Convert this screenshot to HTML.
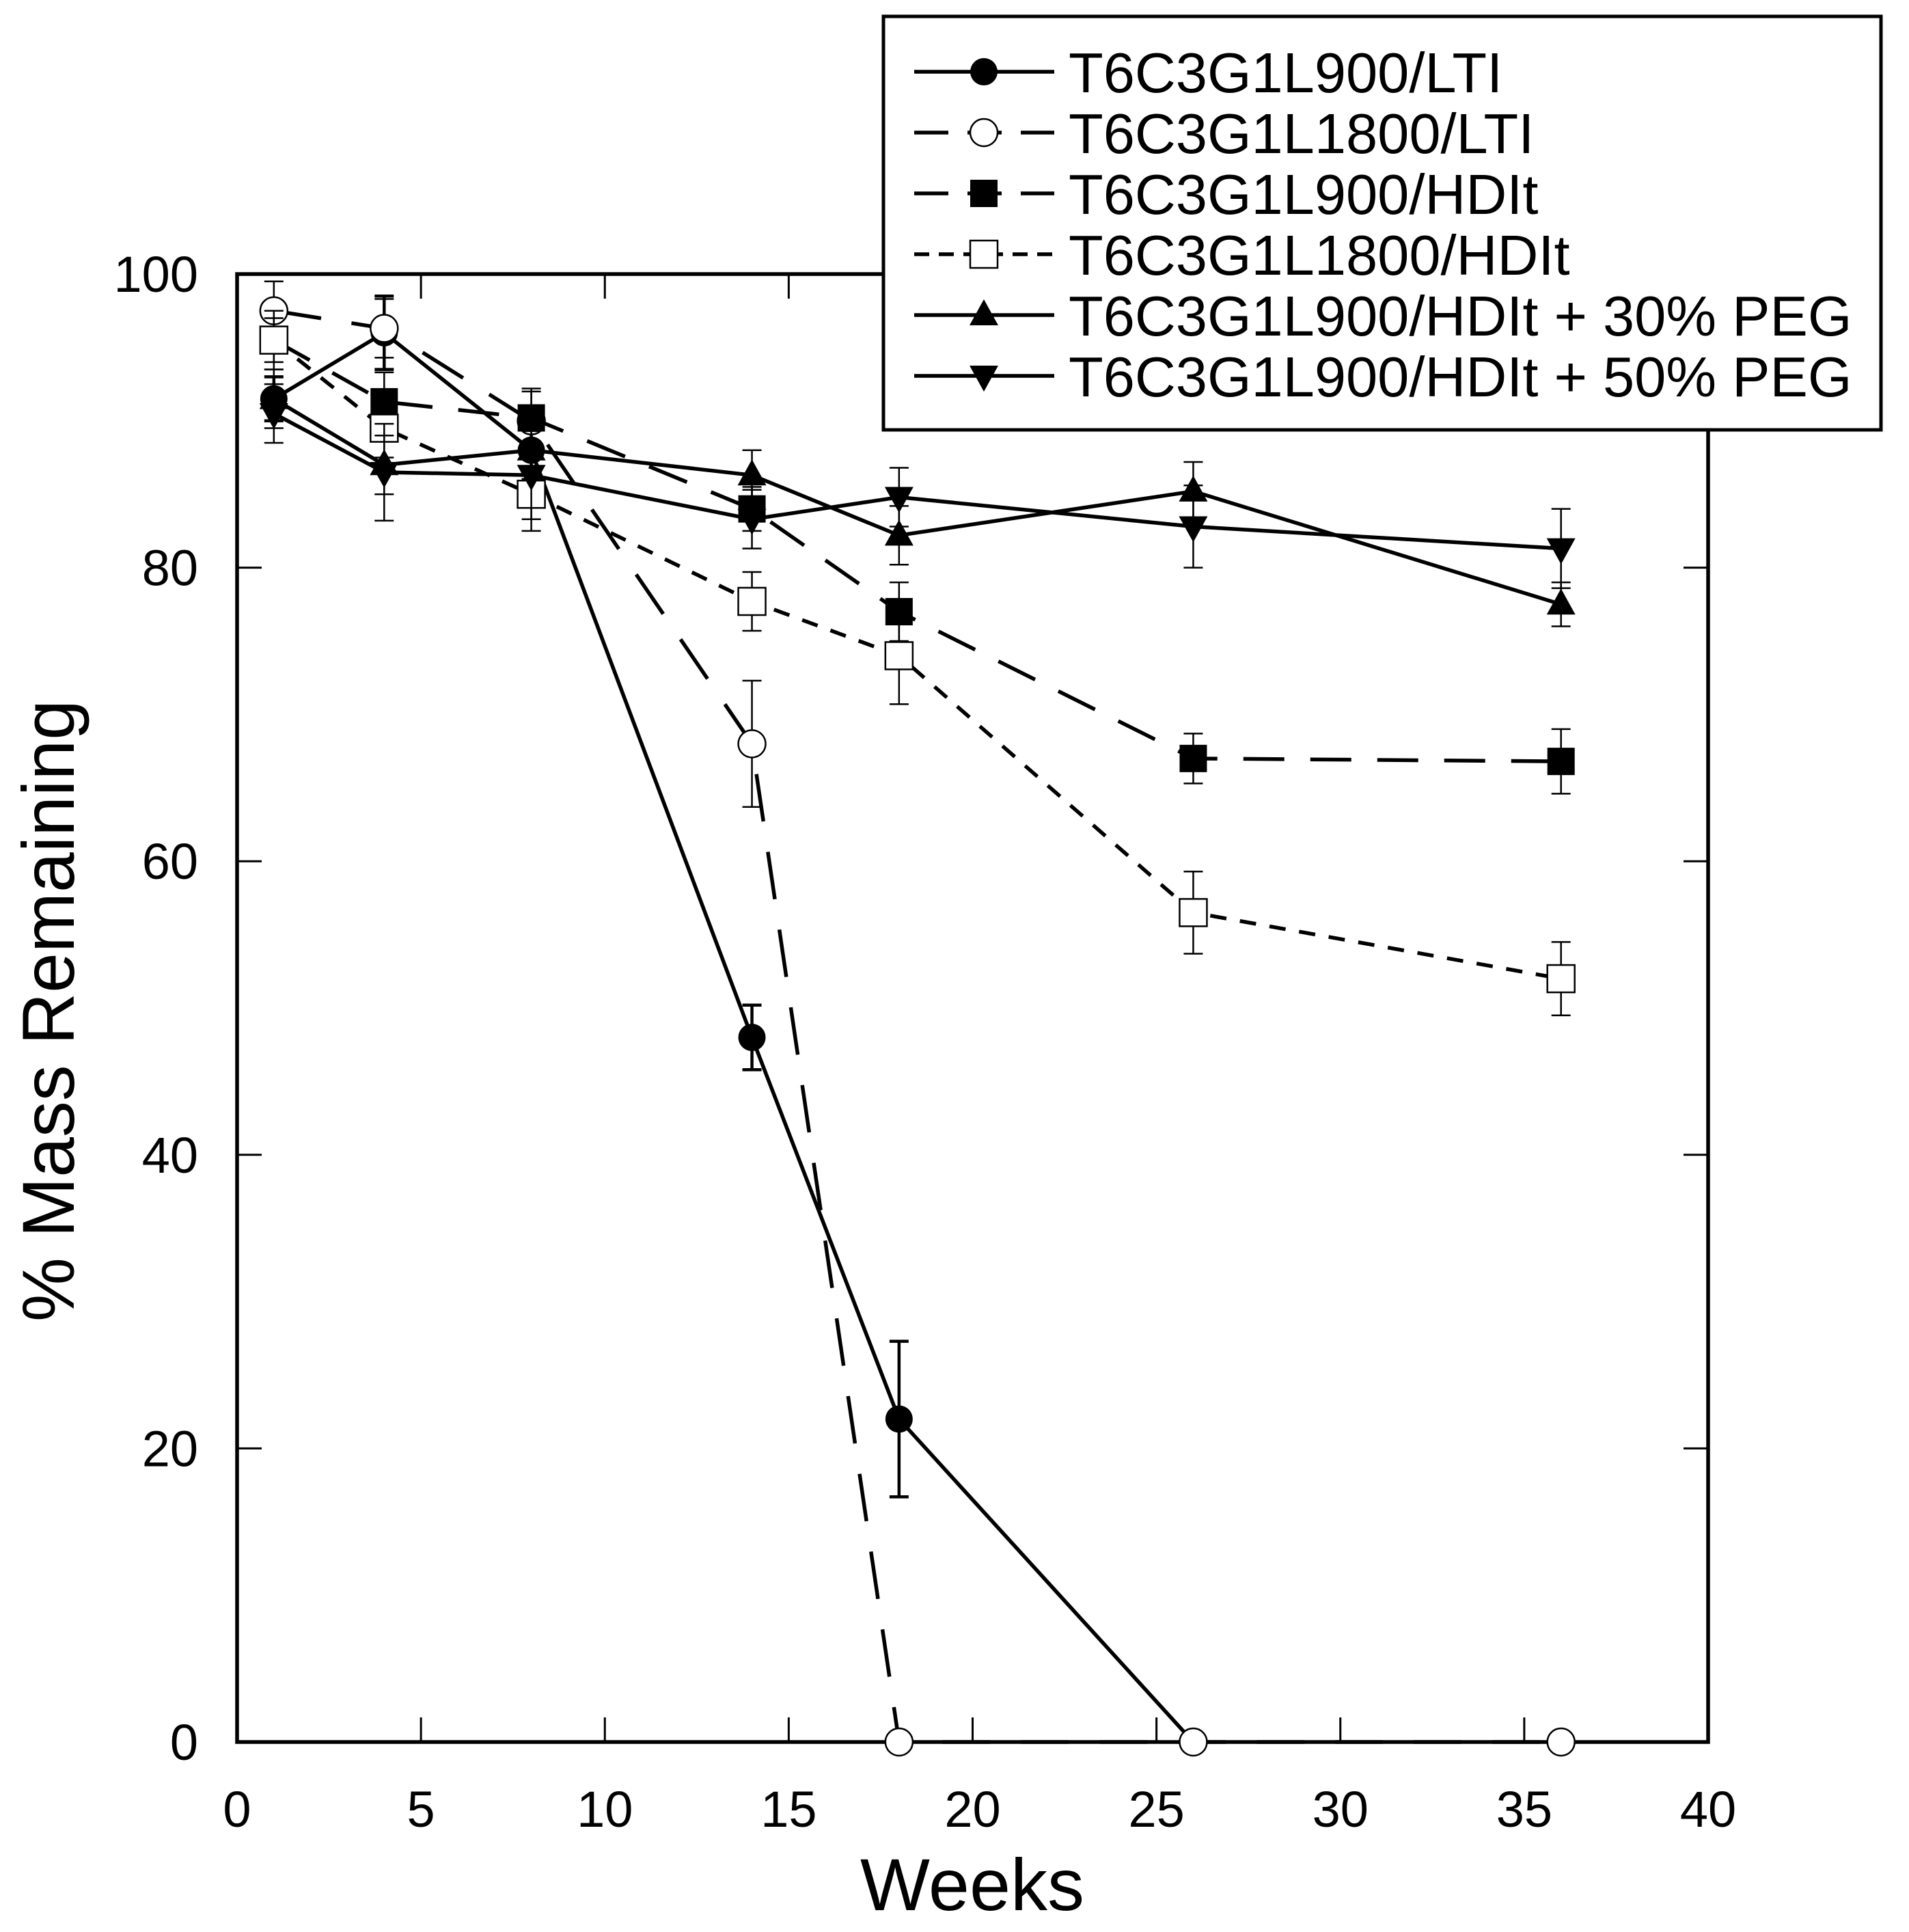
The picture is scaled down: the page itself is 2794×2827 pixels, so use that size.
<!DOCTYPE html>
<html><head><meta charset="utf-8"><style>html,body{margin:0;padding:0;background:#fff}svg{display:block}</style></head>
<body>
<svg id="chart" width="2794" height="2827" viewBox="0 0 2794 2827" xmlns="http://www.w3.org/2000/svg" font-family="'Liberation Sans', sans-serif">
<rect x="0" y="0" width="2794" height="2827" fill="#fff"/>
<g id="axes"></g>
<g id="series"></g>
<g id="legend"></g>
</svg>
<script>
const weeks = [1, 4, 8, 14, 18, 26, 36];
const lti900 = [91.5, 96, 88, 48, 22, 0];
const lti900Err = [1.5, 2.5, 2, 2.2, 5.3, 0];
const lti1800 = [97.5, 96.3, 90, 68, 0, 0, 0];
const lti1800Err = [2, 2, 2, 4.3, 0, 0, 0];
const hdi900 = [95.5, 91.3, 90.2, 84, 77, 67, 66.8];
const hdi900Err = [2, 2, 2, 1.5, 2, 1.7, 2.2];
const hdi1800 = [95.5, 89.5, 85, 77.7, 74, 56.5, 52];
const hdi1800Err = [1.5, 2, 2.5, 2, 3.3, 2.8, 2.5];
const peg30 = [91.5, 87, 88, 86.3, 82.2, 85.2, 77.5];
const peg30Err = [2, 2, 2, 1.7, 2, 2, 1.5];
const peg50 = [90.5, 86.5, 86.3, 83.3, 84.8, 82.8, 81.3];
const peg50Err = [2, 3.3, 3, 2, 2, 2.8, 2.7];
const xTicks = [0, 5, 10, 15, 20, 25, 30, 35, 40];
const yTicks = [0, 20, 40, 60, 80, 100];
const legendLabels = ["T6C3G1L900/LTI","T6C3G1L1800/LTI","T6C3G1L900/HDIt","T6C3G1L1800/HDIt","T6C3G1L900/HDIt + 30% PEG","T6C3G1L900/HDIt + 50% PEG"];

const X0=347, X1=2500, Y0=2549, Y1=401;
const sx = v => X0 + (v/40)*(X1-X0);
const sy = v => Y0 - (v/100)*(Y0-Y1);
const NS="http://www.w3.org/2000/svg";
function mk(tag, attrs, parent){const e=document.createElementNS(NS,tag);for(const k in attrs)e.setAttribute(k,attrs[k]);parent.appendChild(e);return e;}
const axes=document.getElementById('axes'), ser=document.getElementById('series'), leg=document.getElementById('legend');

let frame=mk('rect',{x:X0,y:Y1,width:X1-X0,height:Y0-Y1,fill:'none',stroke:'#000','stroke-width':5.5},axes);


xTicks.forEach(t=>{
  const x=sx(t);
  let l=mk('line',{x1:x,x2:x,y1:Y0,y2:Y0-36,stroke:'#000','stroke-width':3},axes);
  
  
  let l2=mk('line',{x1:x,x2:x,y1:Y1,y2:Y1+36,stroke:'#000','stroke-width':3},axes);
  
  
  let tx=mk('text',{x:x,y:2673,'font-size':74,'text-anchor':'middle'},axes);tx.textContent=t;
  
  
});
yTicks.forEach(t=>{
  const y=sy(t);
  let l=mk('line',{x1:X0,x2:X0+36,y1:y,y2:y,stroke:'#000','stroke-width':3},axes);
  
  
  let l2=mk('line',{x1:X1,x2:X1-36,y1:y,y2:y,stroke:'#000','stroke-width':3},axes);
  
  
  let tx=mk('text',{x:290,y:y+26,'font-size':74,'text-anchor':'end'},axes);tx.textContent=t;
  
  
});
let xt=mk('text',{x:1423,y:2795,'font-size':108,'text-anchor':'middle'},axes);xt.textContent='Weeks';


let yt=mk('text',{x:0,y:0,'font-size':108,'text-anchor':'middle',transform:'translate(108,1479) rotate(-90)',textLength:910,lengthAdjust:'spacingAndGlyphs'},axes);yt.textContent='% Mass Remaining';



function marker(type,cx,cy,parent){
  const r=20;let e;
  if(type==='fc')e=mk('circle',{cx,cy,r,fill:'#000'},parent);
  else if(type==='oc')e=mk('circle',{cx,cy,r,fill:'#fff',stroke:'#000','stroke-width':2.5},parent);
  else if(type==='fs')e=mk('rect',{x:cx-r,y:cy-r,width:2*r,height:2*r,fill:'#000'},parent);
  else if(type==='os')e=mk('rect',{x:cx-r,y:cy-r,width:2*r,height:2*r,fill:'#fff',stroke:'#000','stroke-width':2.5},parent);
  else if(type==='tu')e=mk('polygon',{points:`${cx},${cy-23} ${cx-21},${cy+15} ${cx+21},${cy+15}`,fill:'#000'},parent);
  else e=mk('polygon',{points:`${cx},${cy+23} ${cx-21},${cy-15} ${cx+21},${cy-15}`,fill:'#000'},parent);
  return e;
}
const seriesDefs=[
 {name:'series-lti900',vals:lti900,err:lti900Err,m:'fc',dash:'',ew:4.5},
 {name:'series-lti1800',vals:lti1800,err:lti1800Err,m:'oc',dash:'70 45',ew:2.5},
 {name:'series-hdi900',vals:hdi900,err:hdi900Err,m:'fs',dash:'60 38',ew:2.5},
 {name:'series-hdi1800',vals:hdi1800,err:hdi1800Err,m:'os',dash:'24 20',ew:2.5},
 {name:'series-peg30',vals:peg30,err:peg30Err,m:'tu',dash:'',ew:2.5},
 {name:'series-peg50',vals:peg50,err:peg50Err,m:'td',dash:'',ew:2.5}
];
seriesDefs.forEach(s=>{
  const g=mk('g',{},ser);
  
  
  const pts=s.vals.map((v,i)=>sx(weeks[i])+','+sy(v)).join(' ');
  const pl=mk('polyline',{points:pts,fill:'none',stroke:'#000','stroke-width':5.5,'stroke-dasharray':s.dash},g);
  
  
  s.vals.forEach((v,i)=>{
    const x=sx(weeks[i]);
    if(s.err[i]>0){
      const e=mk('path',{d:`M${x},${sy(v-s.err[i])}V${sy(v+s.err[i])}M${x-14},${sy(v-s.err[i])}h28M${x-14},${sy(v+s.err[i])}h28`,stroke:'#000','stroke-width':s.ew,fill:'none'},g);
      
      
    }
    const m=marker(s.m,x,sy(v),g);
    
    
  });
});

let lb=mk('rect',{x:1293,y:24,width:1460,height:605,fill:'#fff',stroke:'#000','stroke-width':5},leg);


const legY=[105,194,283,372,461,550];
seriesDefs.forEach((s,i)=>{
  const y=legY[i];
  const g=mk('g',{},leg);
  
  
  mk('line',{x1:1338,x2:1543,y1:y,y2:y,stroke:'#000','stroke-width':5.5,'stroke-dasharray':s.dash?(i===3?'22 14':'50 28'):''},g);
  marker(s.m,1440,y,g);
  const t=mk('text',{x:1564,y:y+30,'font-size':83},g);t.textContent=legendLabels[i];
  
  
});
</script>
</body></html>
